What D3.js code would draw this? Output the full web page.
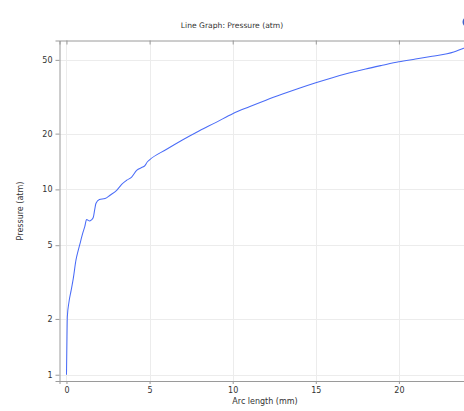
<!DOCTYPE html>
<html>
<head>
<meta charset="utf-8">
<script src="https://cdn.jsdelivr.net/npm/d3@7"></script>
<style>
  html, body { margin: 0; padding: 0; background: #fff; overflow: hidden; }
  svg { display: block; }
  text { font-family: "DejaVu Sans", sans-serif; fill: #333; }
</style>
</head>
<body>
<svg id="chart" width="464" height="411"></svg>
<script>
// Pressure along the arc (arc length in mm, pressure in atm)
const arcLength = [0, 0.03, 0.05, 0.15, 0.28, 0.41, 0.57, 0.71, 0.85, 0.97, 1.1, 1.21, 1.37, 1.5, 1.61, 1.7, 1.77, 1.98, 2.32, 2.62, 3.02, 3.32, 3.62, 3.92, 4.22, 4.58, 4.72, 4.86, 5, 6, 7, 8, 9, 10, 11, 12, 13, 14, 15, 16, 17, 18, 19, 20, 21, 22, 22.9, 23.3, 23.9, 24.5];
const pressure  = [1.0, 1.6, 2.05, 2.47, 2.85, 3.31, 4.15, 4.7, 5.25, 5.78, 6.3, 6.88, 6.76, 6.85, 7.05, 7.8, 8.39, 8.81, 8.92, 9.3, 9.89, 10.65, 11.2, 11.66, 12.67, 13.2, 13.45, 14.05, 14.44, 16.41, 18.53, 20.74, 22.99, 25.61, 27.93, 30.31, 32.7, 35.14, 37.62, 40.09, 42.44, 44.66, 46.75, 48.83, 50.55, 52.34, 53.9, 55.1, 57.8, 59.8];

const xTicks = [0, 5, 10, 15, 20];
const yTicks = [1, 2, 5, 10, 20, 50];

const titleText = "Line Graph: Pressure (atm)";
const xLabel = "Arc length (mm)";
const yLabel = "Pressure (atm)";

const svg = d3.select("#chart");
const plotLeft = 59.5, plotTop = 40.5, plotBottom = 381, plotRight = 482;

const x = d3.scaleLinear().domain([-0.42, 25]).range([plotLeft, plotRight]);
const y = d3.scaleLog().domain([0.925, 63.6]).range([plotBottom, plotTop]);

// grid
const grid = svg.append("g").attr("stroke", "#ececec").attr("stroke-width", 1);
grid.selectAll(".gx").data(xTicks).join("line")
  .attr("x1", d => Math.round(x(d)) + 0.5).attr("x2", d => Math.round(x(d)) + 0.5)
  .attr("y1", plotTop).attr("y2", plotBottom);
grid.selectAll(".gy").data(yTicks).join("line")
  .attr("x1", plotLeft).attr("x2", plotRight)
  .attr("y1", d => Math.round(y(d)) + 0.5).attr("y2", d => Math.round(y(d)) + 0.5);

// clip for the data line
svg.append("clipPath").attr("id", "plotClip")
  .append("rect").attr("x", plotLeft).attr("y", plotTop)
  .attr("width", plotRight - plotLeft).attr("height", plotBottom - plotTop);

const line = d3.line()
  .x((d, i) => x(arcLength[i]))
  .y(d => y(d))
  .curve(d3.curveMonotoneX);
svg.append("path")
  .datum(pressure)
  .attr("clip-path", "url(#plotClip)")
  .attr("fill", "none")
  .attr("stroke", "#4a6cf7")
  .attr("stroke-width", 1.05)
  .attr("stroke-linejoin", "round")
  .attr("d", line);

// axes
const fmt = d3.format("d");
const gx = svg.append("g").attr("transform", `translate(0,${plotBottom})`)
  .call(d3.axisBottom(x).tickValues(xTicks).tickFormat(fmt).tickSize(3).tickPadding(3));
const gxTop = svg.append("g").attr("transform", `translate(0,${plotTop})`)
  .call(d3.axisTop(x).tickValues(xTicks).tickFormat("").tickSize(-4));
const gy = svg.append("g").attr("transform", `translate(${plotLeft},0)`)
  .call(d3.axisLeft(y).tickValues(yTicks).tickFormat(fmt).tickSize(4).tickPadding(3));

[gx, gxTop, gy].forEach(g => {
  g.select(".domain").attr("stroke", "#9a9a9a");
  g.selectAll(".tick line").attr("stroke", "#9a9a9a");
  g.selectAll(".tick text").attr("fill", "#333").style("font-size", "8px").style("font-family", "DejaVu Sans, sans-serif");
});

// title and axis labels
svg.append("text").attr("x", 232).attr("y", 28).attr("text-anchor", "middle")
  .style("font-size", "7.6px").text(titleText);
svg.append("text").attr("x", 265).attr("y", 404).attr("text-anchor", "middle")
  .style("font-size", "8px").text(xLabel);
svg.append("text").attr("transform", "translate(23,211) rotate(-90)").attr("text-anchor", "middle")
  .style("font-size", "8px").text(yLabel);

// corner marker
svg.append("circle").attr("cx", 468).attr("cy", 22).attr("r", 5.5).attr("fill", "#3f63c9");
</script>
</body>
</html>
